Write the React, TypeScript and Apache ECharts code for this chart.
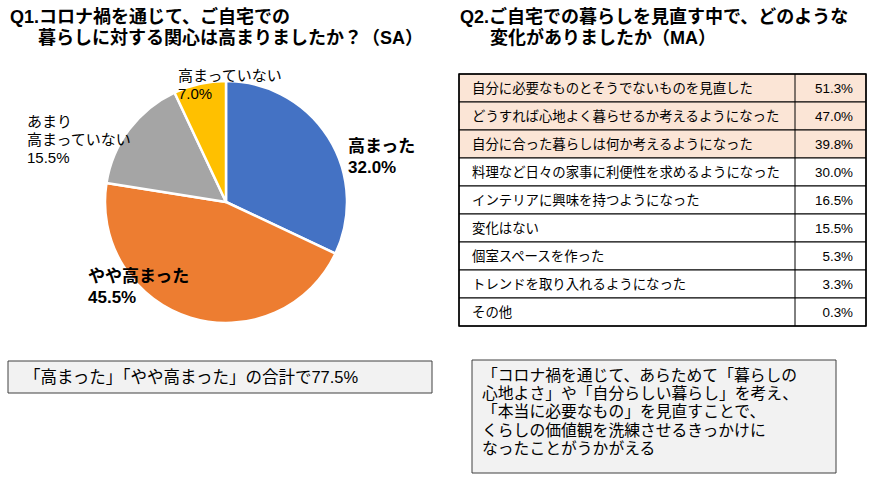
import React, { useEffect, useRef } from "react";
import * as echarts from "echarts";

const q1TitleLines = ["Q1.コロナ禍を通じて、ご自宅での", "暮らしに対する関心は高まりましたか？（SA）"];
const q2TitleLines = ["Q2.ご自宅での暮らしを見直す中で、どのような", "変化がありましたか（MA）"];

const pieNames = ["高まった", "やや高まった", "あまり高まっていない", "高まっていない"];
const pieLabelNames = ["高まった", "やや高まった", "あまり\n高まっていない", "高まっていない"];
const pieValues = [32.0, 45.5, 15.5, 7.0];
const pieBold = [true, true, false, false];

const tableItems = [
  "自分に必要なものとそうでないものを見直した",
  "どうすれば心地よく暮らせるか考えるようになった",
  "自分に合った暮らしは何か考えるようになった",
  "料理など日々の家事に利便性を求めるようになった",
  "インテリアに興味を持つようになった",
  "変化はない",
  "個室スペースを作った",
  "トレンドを取り入れるようになった",
  "その他",
];
const tableValues = [51.3, 47.0, 39.8, 30.0, 16.5, 15.5, 5.3, 3.3, 0.3];
const highlightedRows = 3;

const note1 = "「高まった」「やや高まった」の合計で77.5%";
const note2Lines = [
  "「コロナ禍を通じて、あらためて「暮らしの",
  "心地よさ」や「自分らしい暮らし」を考え、",
  "「本当に必要なもの」を見直すことで、",
  "くらしの価値観を洗練させるきっかけに",
  "なったことがうかがえる",
];

const FONT = "'Liberation Sans', 'Noto Sans CJK JP', sans-serif";
const pieColors = ["#4472C4", "#ED7D31", "#A5A5A5", "#FFC000"];
const labelPos = [
  [348, 136],
  [88, 266],
  [27, 112],
  [178, 66],
];

export default function App() {
  const ref = useRef<HTMLDivElement>(null);
  useEffect(() => {
    if (!ref.current) return;
    const chart = echarts.init(ref.current, undefined, { renderer: "svg" });

    const graphics: any[] = [];
    // titles
    graphics.push({ type: "text", x: 10, y: 17, style: { text: q1TitleLines[0], font: `bold 18px ${FONT}`, fill: "#000", textVerticalAlign: "middle" } });
    graphics.push({ type: "text", x: 38, y: 38, style: { text: q1TitleLines[1], font: `bold 18px ${FONT}`, fill: "#000", textVerticalAlign: "middle" } });
    graphics.push({ type: "text", x: 460, y: 17, style: { text: q2TitleLines[0], font: `bold 18px ${FONT}`, fill: "#000", textVerticalAlign: "middle" } });
    graphics.push({ type: "text", x: 490, y: 38, style: { text: q2TitleLines[1], font: `bold 18px ${FONT}`, fill: "#000", textVerticalAlign: "middle" } });

    // table
    const tx = 459, tw = 407, tdiv = 795, ty = 74, rh = 28;
    tableItems.forEach((item, i) => {
      const y = ty + i * rh;
      graphics.push({
        type: "rect",
        shape: { x: tx, y, width: tw, height: rh },
        style: { fill: i < highlightedRows ? "#FBE5D6" : "#FFFFFF", stroke: "#000", lineWidth: 1 },
      });
      graphics.push({
        type: "line",
        shape: { x1: tdiv, y1: y, x2: tdiv, y2: y + rh },
        style: { stroke: "#000", lineWidth: 1 },
      });
      graphics.push({
        type: "text",
        x: 472,
        y: y + rh / 2,
        style: { text: item, font: `13.4px ${FONT}`, fill: "#000", textVerticalAlign: "middle", textAlign: "left" },
      });
      graphics.push({
        type: "text",
        x: 853,
        y: y + rh / 2,
        style: { text: tableValues[i].toFixed(1) + "%", font: `13.4px ${FONT}`, fill: "#000", textVerticalAlign: "middle", textAlign: "right" },
      });
    });
    graphics.push({
      type: "rect",
      shape: { x: tx, y: ty, width: tw, height: rh * tableItems.length },
      style: { fill: "none", stroke: "#000", lineWidth: 1.5 },
    });

    // notes
    graphics.push({
      type: "rect",
      shape: { x: 8, y: 361, width: 424, height: 32 },
      style: { fill: "#F2F2F2", stroke: "#404040", lineWidth: 1 },
    });
    graphics.push({
      type: "text",
      x: 24,
      y: 377,
      style: { text: note1, font: `16.5px ${FONT}`, fill: "#000", textVerticalAlign: "middle" },
    });
    graphics.push({
      type: "rect",
      shape: { x: 472, y: 360, width: 364, height: 113 },
      style: { fill: "#F2F2F2", stroke: "#404040", lineWidth: 1 },
    });
    note2Lines.forEach((line, i) => {
      graphics.push({
        type: "text",
        x: 482,
        y: 375 + i * 18.4,
        style: { text: line, font: `15.8px ${FONT}`, fill: "#000", textVerticalAlign: "middle" },
      });
    });

    chart.setOption({
      animation: false,
      backgroundColor: "#FFFFFF",
      textStyle: { fontFamily: FONT },
      series: [
        {
          type: "pie",
          center: [226, 202],
          radius: 121,
          startAngle: 90,
          clockwise: true,
          silent: true,
          itemStyle: { borderColor: "#FFFFFF", borderWidth: 2.5 },
          labelLine: { show: false },
          label: {
            show: true,
            position: "outside",
            overflow: "none",
            color: "#000",
            fontFamily: FONT,
            formatter: (p: any) => {
              const i = p.dataIndex;
              const key = pieBold[i] ? "b" : "n";
              return pieLabelNames[i]
                .split("\n")
                .concat([pieValues[i].toFixed(1) + "%"])
                .map((s) => `{${key}|${s}}`)
                .join("\n");
            },
            rich: {
              b: { fontSize: 17, fontWeight: "bold", lineHeight: 21, color: "#000", fontFamily: FONT },
              n: { fontSize: 15, lineHeight: 18, color: "#000", fontFamily: FONT },
            },
          },
          labelLayout: (params: any) => {
            const p = labelPos[params.dataIndex];
            return { x: p[0], y: p[1], align: "left", verticalAlign: "top" };
          },
          data: pieValues.map((v, i) => ({ name: pieNames[i], value: v, itemStyle: { color: pieColors[i] } })),
        },
      ],
      graphic: graphics,
    });
    return () => chart.dispose();
  }, []);
  return <div ref={ref} style={{ position: "fixed", left: 0, top: 0, width: 876, height: 481 }} />;
}
